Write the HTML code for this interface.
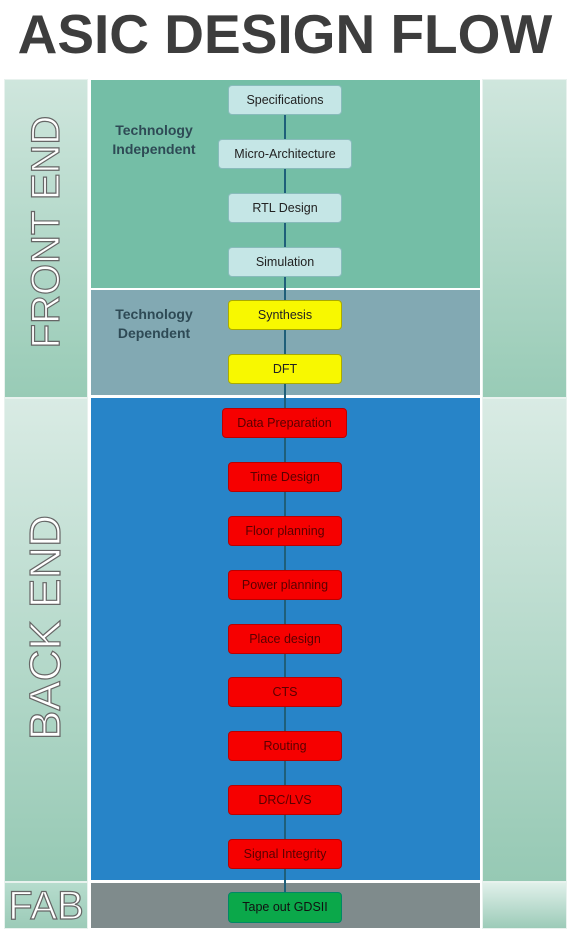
<!DOCTYPE html>
<html><head><meta charset="utf-8"><style>
body{margin:0;width:570px;height:933px;background:#fff;position:relative;overflow:hidden;font-family:"Liberation Sans",sans-serif}
div{position:absolute;box-sizing:border-box}
.title{left:0;top:4px;width:570px;text-align:center;font-weight:bold;font-size:55px;color:#3d3d3d;line-height:60px}
.side{border:1px solid #e8f2ee}
.vlab{color:#fff;white-space:nowrap;-webkit-text-stroke:1.2px #666;transform:rotate(-90deg);transform-origin:center;text-align:center}
.box{border-radius:4px;text-align:center;font-size:12.5px;line-height:28px;color:#222}
.b1{background:#c5e6e6;border:1px solid #8bb;}
.b2{background:#f8f800;border:1px solid #aa0;}
.b3{background:#f60000;border:1px solid #b00;color:#5a0000}
.b4{background:#0ba84a;border:1px solid #086;color:#111}
.grp{font-weight:bold;font-size:14px;color:#2e4a55;text-align:center;line-height:19px}
</style></head><body>
<div class="title">ASIC DESIGN FLOW</div>
<div class="side" style="left:4px;top:79px;width:84px;height:319px;background:linear-gradient(#cfe6dd,#98cbb6)"></div>
<div class="side" style="left:4px;top:398px;width:84px;height:484px;background:linear-gradient(#d9ebe4,#96c9b4)"></div>
<div class="side" style="left:4px;top:882px;width:84px;height:47px;background:linear-gradient(#b6dccd,#9ccbb8)"></div>
<div class="side" style="left:482px;top:79px;width:85px;height:319px;background:linear-gradient(#cfe6dd,#98cbb6)"></div>
<div class="side" style="left:482px;top:398px;width:85px;height:484px;background:linear-gradient(#d9ebe4,#96c9b4)"></div>
<div class="side" style="left:482px;top:882px;width:85px;height:47px;background:linear-gradient(#e0f0ea,#9ccbb8)"></div>
<div style="left:91px;top:80px;width:389px;height:208px;background:#74bea6"></div>
<div style="left:91px;top:290px;width:389px;height:105px;background:#82a9b3"></div>
<div style="left:91px;top:398px;width:389px;height:482px;background:#2784c8"></div>
<div style="left:91px;top:883px;width:389px;height:45px;background:#7f8b8c"></div>
<div style="left:284px;top:100px;width:2px;height:808px;background:#1f5f7a"></div>
<div class="vlab" style="left:-74px;top:207px;width:240px;height:50px;line-height:50px;font-size:40px">FRONT END</div>
<div class="vlab" style="left:-64px;top:605px;width:220px;height:50px;line-height:50px;font-size:44px">BACK END</div>
<div class="vlab" style="left:4px;top:884px;width:84px;height:44px;line-height:44px;transform:none;font-size:40px">FAB</div>
<div class="grp" style="left:98px;top:121px;width:112px">Technology<br>Independent</div>
<div class="grp" style="left:98px;top:305px;width:112px">Technology<br>Dependent</div>
<div class="box b1" style="left:228px;top:85px;width:114px;height:30px">Specifications</div>
<div class="box b1" style="left:218px;top:139px;width:134px;height:30px">Micro-Architecture</div>
<div class="box b1" style="left:228px;top:193px;width:114px;height:30px">RTL Design</div>
<div class="box b1" style="left:228px;top:247px;width:114px;height:30px">Simulation</div>
<div class="box b2" style="left:228px;top:300px;width:114px;height:30px">Synthesis</div>
<div class="box b2" style="left:228px;top:354px;width:114px;height:30px">DFT</div>
<div class="box b3" style="left:222px;top:408px;width:125px;height:30px">Data Preparation</div>
<div class="box b3" style="left:228px;top:462px;width:114px;height:30px">Time Design</div>
<div class="box b3" style="left:228px;top:516px;width:114px;height:30px">Floor planning</div>
<div class="box b3" style="left:228px;top:570px;width:114px;height:30px">Power planning</div>
<div class="box b3" style="left:228px;top:624px;width:114px;height:30px">Place design</div>
<div class="box b3" style="left:228px;top:677px;width:114px;height:30px">CTS</div>
<div class="box b3" style="left:228px;top:731px;width:114px;height:30px">Routing</div>
<div class="box b3" style="left:228px;top:785px;width:114px;height:30px">DRC/LVS</div>
<div class="box b3" style="left:228px;top:839px;width:114px;height:30px">Signal Integrity</div>
<div class="box b4" style="left:228px;top:892px;width:114px;height:31px">Tape out GDSII</div>
</body></html>
